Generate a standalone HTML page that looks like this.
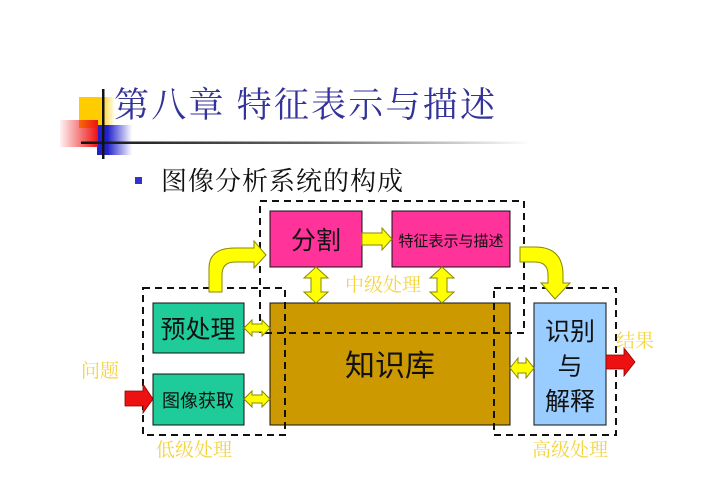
<!DOCTYPE html>
<html><head><meta charset="utf-8"><style>
body{margin:0;background:#fff;width:713px;height:504px;overflow:hidden}
svg{display:block}
text{font-family:"Liberation Sans","Noto Sans CJK SC",sans-serif}
.s{font-family:"Liberation Serif","Noto Serif CJK SC",serif}
</style></head><body>
<svg width="713" height="504" viewBox="0 0 713 504">
<defs>
<linearGradient id="ly" x1="0" x2="1"><stop offset="0.6" stop-color="#ffcc00"/><stop offset="1" stop-color="#ffcc00" stop-opacity="0"/></linearGradient>
<linearGradient id="lr" x1="1" x2="0"><stop offset="0" stop-color="#ee1111"/><stop offset="1" stop-color="#ee1111" stop-opacity="0.05"/></linearGradient>
<linearGradient id="lb" x1="0" x2="1"><stop offset="0.3" stop-color="#2222cc"/><stop offset="1" stop-color="#2222cc" stop-opacity="0"/></linearGradient>
<linearGradient id="ll" x1="0" x2="1"><stop offset="0" stop-color="#111"/><stop offset="0.5" stop-color="#666"/><stop offset="1" stop-color="#fff"/></linearGradient>
</defs>
<rect x="79" y="97" width="36" height="31" fill="url(#ly)"/>
<rect x="97" y="125" width="35" height="30" fill="url(#lb)"/>
<rect x="60" y="120" width="38" height="27" fill="url(#lr)"/>
<rect x="81" y="141.5" width="450" height="2.5" fill="url(#ll)"/>
<rect x="102" y="89" width="2.5" height="70" fill="#111"/>
<text class="s" x="114" y="117" font-size="35" fill="#333399" textLength="381">第八章 特征表示与描述</text>
<rect x="135" y="177" width="7" height="7" fill="#3333cc"/>
<text class="s" x="161" y="190" font-size="26" fill="#111" textLength="242">图像分析系统的构成</text>

<rect x="270" y="303" width="240" height="122" fill="#cc9900" stroke="#111"/>
<rect x="270" y="211" width="92" height="56" fill="#ff3399" stroke="#111"/>
<rect x="392" y="211" width="118" height="56" fill="#ff3399" stroke="#111"/>
<rect x="153" y="303" width="91" height="50" fill="#1fcc99" stroke="#111"/>
<rect x="153" y="374" width="91" height="51" fill="#1fcc99" stroke="#111"/>
<rect x="534" y="303" width="72" height="122" fill="#99ccff" stroke="#111"/>

<g fill="none" stroke="#111" stroke-width="2" stroke-dasharray="7,5">
<rect x="260" y="201" width="264" height="132"/>
<rect x="143" y="288" width="142" height="147"/>
<rect x="494" y="288" width="122" height="147"/>
</g>

<g fill="#ffff00" stroke="#888800" stroke-width="1">
<polygon points="362,233 382,233 382,228 392,239 382,250 382,245 362,245"/>
<polygon points="316,267 328,278 321,278 321,292 328,292 316,303 304,292 311,292 311,278 304,278"/>
<polygon points="442,267 454,278 447,278 447,292 454,292 442,303 430,292 437,292 437,278 430,278"/>
<polygon points="244,328 252,320 252,324 262,324 262,320 270,328 262,336 262,332 252,332 252,336"/>
<polygon points="244,399 252,391 252,395 262,395 262,391 270,399 262,407 262,403 252,403 252,407"/>
<polygon points="510,368 518,358 518,363 526,363 526,358 534,368 526,378 526,373 518,373 518,378"/>
<path d="M209,292 L209,268 Q209,248 235,248 L254,248 L254,241 L266,255 L254,268 L254,262 L235,262 Q222,262 222,275 L222,292 Z"/>
<path d="M520,247 L535,247 Q563,247 563,275 L563,283 L570,283 L555,299 L541,283 L548,283 L548,275 Q548,262 535,262 L520,262 Z"/>
</g>
<g fill="#ee1111" stroke="#880000" stroke-width="0.8">
<polygon points="125,391 143,391 143,384 153,399 143,413 143,406 125,406"/>
<polygon points="606,355 624,355 624,348 635,362 624,376 624,369 606,369"/>
</g>

<g fill="#111">
<text x="316" y="249" font-size="25" text-anchor="middle">分割</text>
<text x="451" y="246" font-size="15" text-anchor="middle">特征表示与描述</text>
<text x="198" y="338" font-size="25" text-anchor="middle">预处理</text>
<text x="198" y="407" font-size="18" text-anchor="middle">图像获取</text>
<text x="390" y="376" font-size="30" text-anchor="middle">知识库</text>
<text x="570" y="340" font-size="25" text-anchor="middle">识别</text>
<text x="570" y="375" font-size="25" text-anchor="middle">与</text>
<text x="570" y="410" font-size="25" text-anchor="middle">解释</text>
</g>
<g fill="#f5d442" font-size="19">
<text class="s" x="345" y="291">中级处理</text>
<text class="s" x="156" y="456">低级处理</text>
<text class="s" x="532" y="456">高级处理</text>
<text class="s" x="81" y="377">问题</text>
<text class="s" x="616" y="347">结果</text>
</g>
</svg>
</body></html>
